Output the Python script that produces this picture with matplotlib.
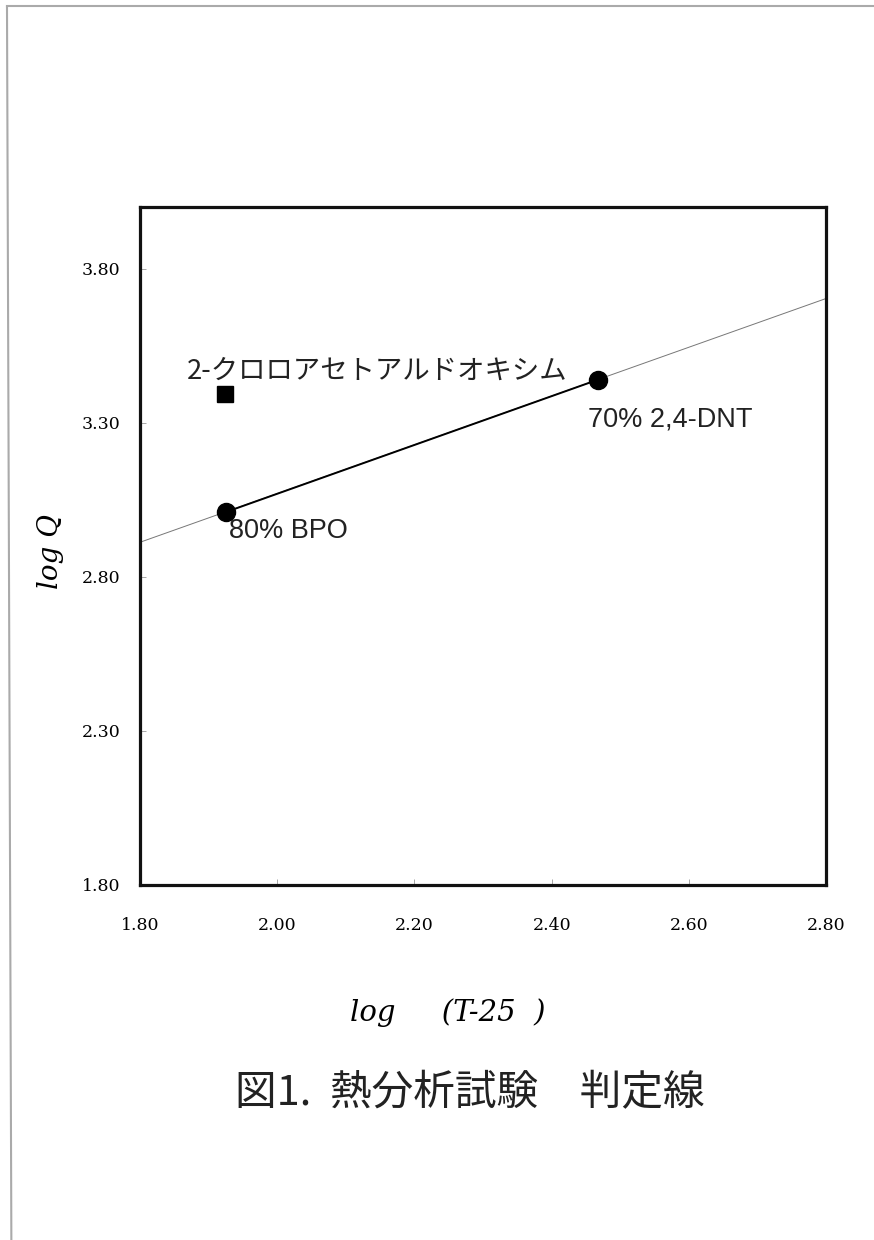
import matplotlib
matplotlib.use("Agg")
import matplotlib.pyplot as plt
from matplotlib.lines import Line2D

plt.rcParams['font.family'] = ['Noto Sans CJK JP', 'DejaVu Sans']

# Data
circle_names = ["80% BPO", "70% 2,4-DNT"]
circle_x = [1.925, 2.468]
circle_y = [3.01, 3.44]
square_name = "2-クロロアセトアルドオキシム"
square_x = [1.924]
square_y = [3.394]
line_x = [1.80, 2.80]
line_y = [2.912, 3.703]
xticks = [1.80, 2.00, 2.20, 2.40, 2.60, 2.80]
yticks = [1.80, 2.30, 2.80, 3.30, 3.80]

fig = plt.figure(figsize=(8.74, 12.4), dpi=100)
ax = fig.add_axes([0.1602, 0.2863, 0.785, 0.5468])

ax.plot(line_x, line_y, color='#777777', lw=0.7, zorder=2, clip_on=True)
ax.plot(circle_x, circle_y, color='black', lw=1.4, zorder=3)
ax.plot(circle_x, circle_y, 'o', color='black', ms=13, zorder=4)
ax.plot(square_x, square_y, 's', color='black', ms=11.5, zorder=4)

lab_fam = ['Liberation Sans', 'Noto Sans CJK JP']
ax.text(1.8685, 3.466, square_name, fontsize=19.7, va='center', ha='left',
        color='#222222', family=['Noto Sans CJK JP'])
ax.text(1.930, 2.947, circle_names[0], fontsize=19.5, va='center', ha='left',
        color='#222222', family=lab_fam)
ax.text(2.453, 3.311, circle_names[1], fontsize=19.5, va='center', ha='left',
        color='#222222', family=lab_fam)

ax.set_xlim(1.80, 2.80)
ax.set_ylim(1.80, 4.00)
ax.set_xticks(xticks)
ax.set_yticks(yticks)
ax.set_xticklabels([f"{v:.2f}" for v in xticks], family='DejaVu Serif', fontsize=12.5)
ax.set_yticklabels([f"{v:.2f}" for v in yticks], family='DejaVu Serif', fontsize=12.5)
ax.tick_params(direction='in', length=4, width=0.6, color='#999999')
ax.tick_params(axis='x', pad=23)
ax.tick_params(axis='y', pad=14)
for s in ax.spines.values():
    s.set_linewidth(2.3)
    s.set_color('#111111')

fig.text(0.058, 0.555, "log Q", rotation=90, fontsize=20, style='italic',
         family='DejaVu Serif', ha='center', va='center')
fig.text(0.512, 0.183, "log     (T-25  )", fontsize=21, style='italic',
         family='DejaVu Serif', ha='center', va='center')
fig.text(0.538, 0.118, "図1.  熱分析試験　判定線", fontsize=30, ha='center', va='center',
         color='#222222')

# page border
fig.add_artist(Line2D([0.008, 1.0], [0.995, 0.995], color='#aaaaaa', lw=1.5,
                      transform=fig.transFigure))
fig.add_artist(Line2D([0.008, 0.013], [0.995, 0.0], color='#aaaaaa', lw=1.5,
                      transform=fig.transFigure))

fig.savefig("out.png", dpi=100)
